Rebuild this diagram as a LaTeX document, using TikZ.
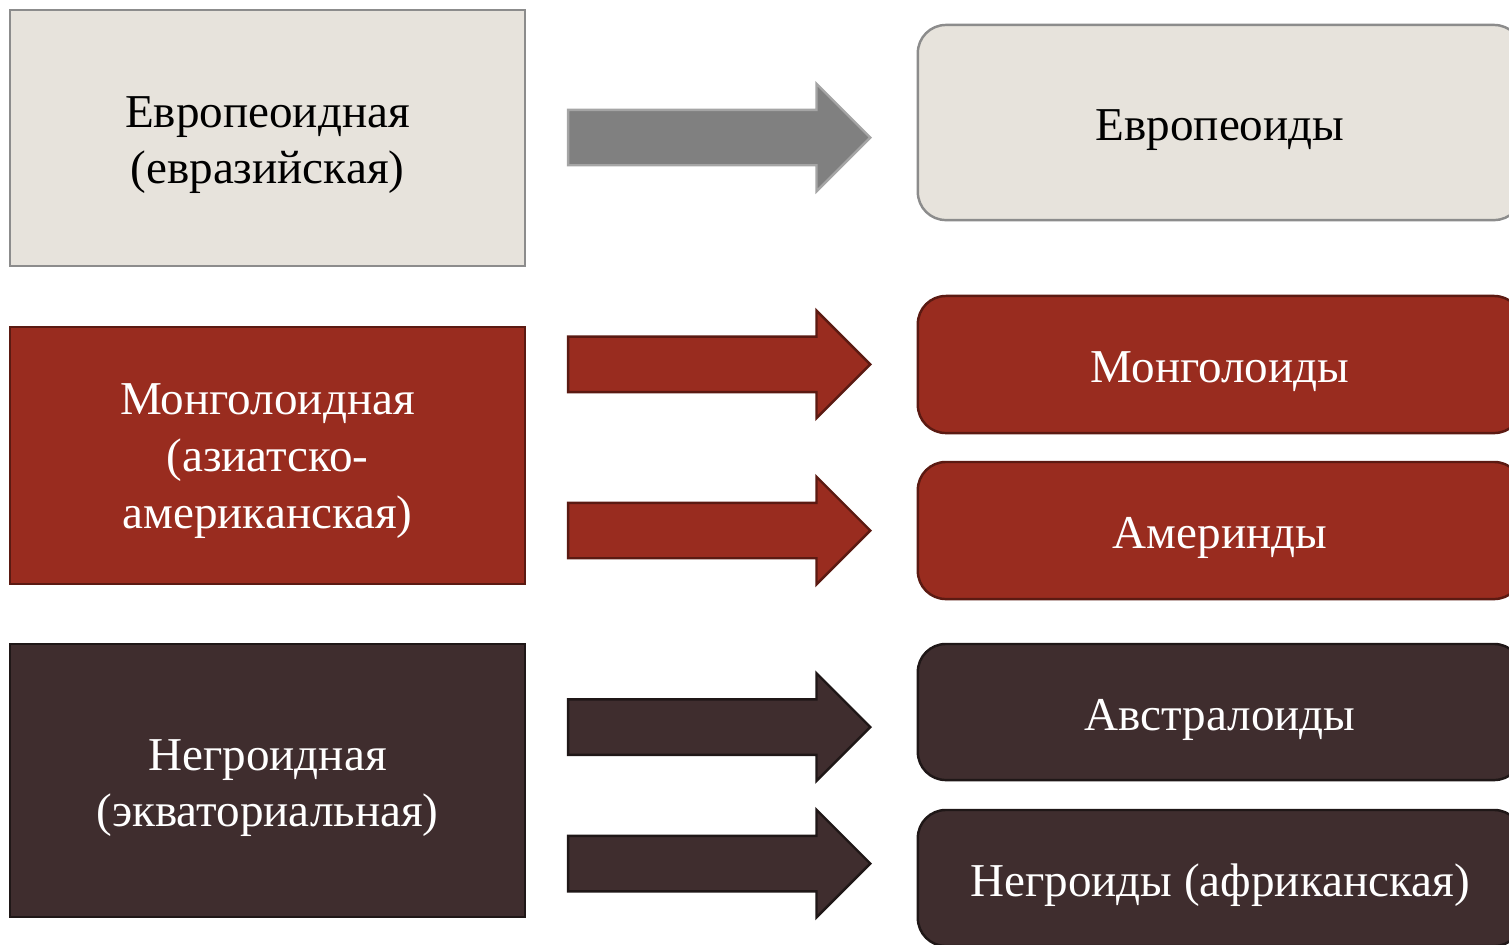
\documentclass[tikz,border=0pt]{standalone}
\usepackage{fontspec}
\setmainfont{Liberation Serif}
\usepackage{tikz}
\usetikzlibrary{shapes.arrows,positioning}

\definecolor{palefill}{HTML}{E7E3DC}
\definecolor{paledraw}{HTML}{8C8C8C}
\definecolor{rustfill}{HTML}{992C1F}
\definecolor{rustdraw}{HTML}{5B1A12}
\definecolor{umberfill}{HTML}{3F2D2E}
\definecolor{umberdraw}{HTML}{1F1717}
\definecolor{greyfill}{HTML}{808080}
\definecolor{greydraw}{HTML}{A5A5A5}

\tikzset{
  racebox/.style={rectangle, line width=0.7pt, minimum width=5.15cm, text width=4.9cm, align=center, text height=0.4cm, font=\fontsize{13.4}{16.2}\selectfont},
  groupbox/.style={rectangle, rounded corners=0.28cm, line width=0.7pt, minimum width=6.04cm, align=center, text height=0.46cm, text depth=0.1cm, font=\fontsize{13.4}{16.2}\selectfont},
  pale/.style={fill=palefill, draw=paledraw, text=black},
  rust/.style={fill=rustfill, draw=rustdraw, text=white},
  umber/.style={fill=umberfill, draw=umberdraw, text=white},
  fatarrow/.style={single arrow, line width=0.7pt, minimum height=3.02cm, inner xsep=0pt, inner ysep=0.265cm, single arrow head extend=0.26cm, single arrow tip angle=90, anchor=tip}
}

\begin{document}
\begin{tikzpicture}[x=0.01cm, y=-0.01cm]
\useasboundingbox (0,0) rectangle (1509,944);

\node[racebox,pale,minimum height=2.56cm,text depth=0.62cm] (eur) at (267.5,138) {Европеоидная\\(евразийская)};
\node[racebox,rust,minimum height=2.57cm,text depth=1.21cm] (mon) at (267.5,455.5) {Монголоидная\\(азиатско-\\американская)};
\node[racebox,umber,minimum height=2.73cm,text depth=0.61cm] (neg) at (267.5,780.5) {Негроидная\\(экваториальная)};

\node[groupbox,pale,minimum height=1.95cm] (eurs) at (1220,122.5) {Европеоиды};
\node[groupbox,rust,minimum height=1.37cm] (mons) at (1220,364.5) {Монголоиды};
\node[groupbox,rust,minimum height=1.37cm] (amer) at (1220,530.5) {Америнды};
\node[groupbox,umber,minimum height=1.36cm] (aus) at (1220,712) {Австралоиды};
\node[groupbox,umber,minimum height=1.36cm] (afr) at (1220,878) {Негроиды (африканская)};

\node[fatarrow,fill=greyfill,draw=greydraw] (eurarr) at (872,137.5) {};
\node[fatarrow,fill=rustfill,draw=rustdraw] (monarr) at (872,364.3) {};
\node[fatarrow,fill=rustfill,draw=rustdraw] (amerarr) at (872,530.5) {};
\node[fatarrow,fill=umberfill,draw=umberdraw] (ausarr) at (872,727) {};
\node[fatarrow,fill=umberfill,draw=umberdraw] (afrarr) at (872,863.5) {};
\end{tikzpicture}
\end{document}
